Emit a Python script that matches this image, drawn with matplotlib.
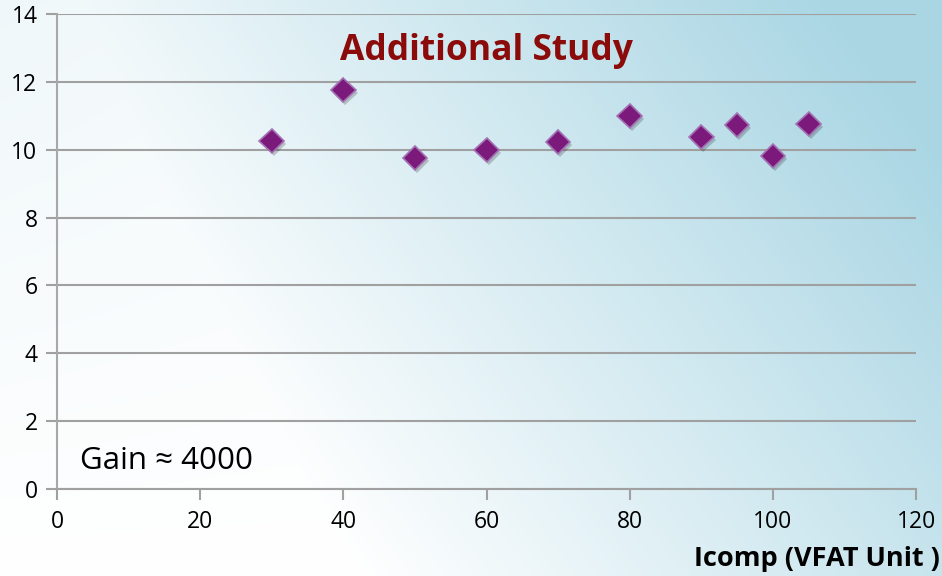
import numpy as np
import matplotlib
matplotlib.use("Agg")
import matplotlib.pyplot as plt
import matplotlib.patheffects as pe

# data
icomp = [30, 40, 50, 60, 70, 80, 90, 95, 100, 105]
values = [10.26, 11.76, 9.76, 9.99, 10.23, 10.99, 10.37, 10.73, 9.81, 10.76]
xticks = [0, 20, 40, 60, 80, 100, 120]
yticks = [0, 2, 4, 6, 8, 10, 12, 14]

plt.rcParams['font.family'] = ['Open Sans', 'DejaVu Sans']

fig = plt.figure(figsize=(9.42, 5.76), dpi=100)

# background gradient, white at lower left going to light blue at upper right
bg = fig.add_axes([0, 0, 1, 1], zorder=-10)
u, v = np.meshgrid(np.linspace(0, 1, 400), np.linspace(1, 0, 250))
t = np.clip((u - 0.38 + 0.45 * v) / 0.95, 0, 1)
t = np.maximum(t, 0.18 * v * (1 - u))
white = np.array([1.0, 1.0, 1.0])
blue = np.array([170, 214, 228]) / 255
img = white[None, None, :] * (1 - t[..., None]) + blue[None, None, :] * t[..., None]
bg.imshow(img, aspect='auto', extent=[0, 1, 0, 1])
bg.axis('off')

ax = fig.add_axes([0.0605, 0.151, 0.912, 0.8247])
ax.patch.set_alpha(0)

ax.plot(icomp, values, linestyle='none', marker='D', markersize=12.5,
        markerfacecolor='#7b1a7b', markeredgecolor='#a473b4', markeredgewidth=1.2,
        path_effects=[pe.SimplePatchShadow(offset=(1.5, -2), shadow_rgbFace='k', alpha=0.2),
                      pe.Normal()], zorder=5, clip_on=False)

ax.set_xlim(0, 120)
ax.set_ylim(0, 14)
ax.set_xticks(xticks)
ax.set_yticks(yticks)
ax.grid(axis='y', color='#a0a0a0', linewidth=1.5)
ax.set_axisbelow(True)

for s in ['top', 'right']:
    ax.spines[s].set_visible(False)
ax.spines['left'].set_color('#a8a8a8')
ax.spines['bottom'].set_color('#a0a0a0')
ax.spines['left'].set_linewidth(1.5)
ax.spines['bottom'].set_linewidth(1.5)
ax.tick_params(axis='both', labelsize=16.5, colors='#a0a0a0', labelcolor='black',
               width=1.5, length=8, direction='out')
ax.tick_params(axis='x', pad=7)
ax.tick_params(axis='y', pad=6)

ax.text(0.5, 0.922, 'Additional Study', transform=ax.transAxes, ha='center', va='center',
        fontsize=25.5, fontweight='bold', color='#8b0a0a')
ax.text(0.027, 0.06, 'Gain ≈ 4000', transform=ax.transAxes, ha='left', va='center',
        fontsize=22.5, color='black')
fig.text(0.998, 0.03, 'Icomp (VFAT Unit )', ha='right', va='center',
         fontsize=19.5, fontweight='bold', color='black')

fig.savefig('out.png', dpi=100)
